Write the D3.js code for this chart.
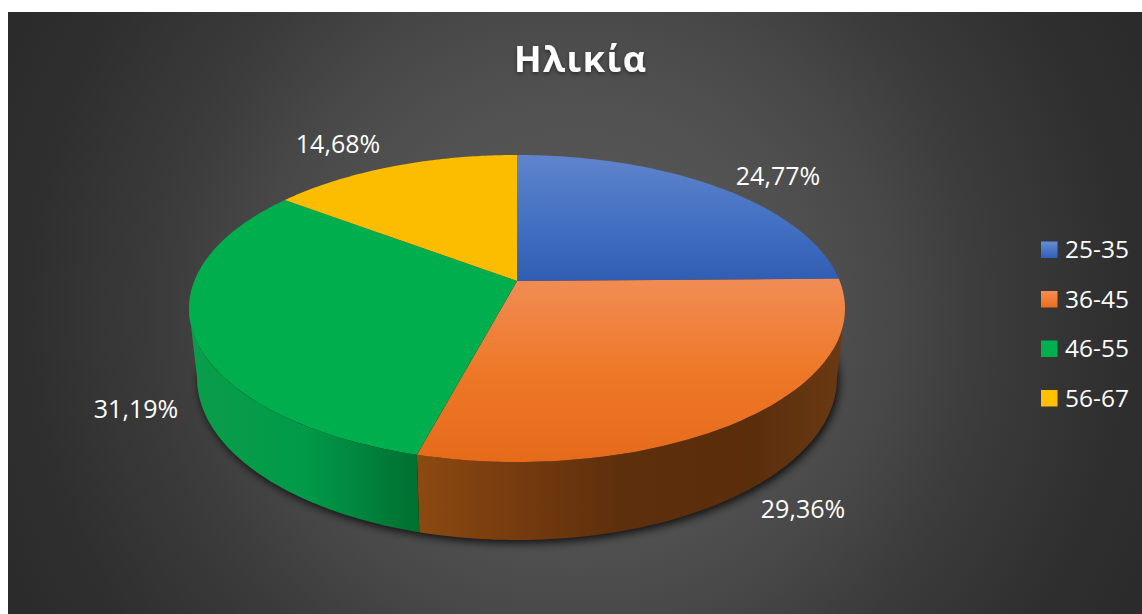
<!DOCTYPE html>
<html><head><meta charset="utf-8">
<script src="https://cdn.jsdelivr.net/npm/d3@7/dist/d3.min.js"></script>
<style>html,body{margin:0;padding:0;background:#fff;overflow:hidden}svg{display:block}</style>
</head><body><script>
const categories = ["25-35","36-45","46-55","56-67"];
const values = [24.77,29.36,31.19,14.68];
const valueLabels = ["24,77%","29,36%","31,19%","14,68%"];
const titleText = "Ηλικία";

const W=1142,H=614, X0=8,Y0=12;
const cx=517, k=0.179, cyTop=281, Rt=322.7, St=148.6;
const cyBot=349, Rb=314.8, Sb=156.8;
const project=(a,cy,R,S)=>{const u=Math.sin(a),v=-Math.cos(a),d=1-k*v;return [cx+R*u/d,cy+S*v/d];};
const top_=a=>project(a,cyTop,Rt,St), bot=a=>project(a,cyBot,Rb,Sb);

const svg=d3.select("body").append("svg").attr("width",W).attr("height",H);
const defs=svg.append("defs");
const bg=defs.append("radialGradient").attr("id","bg").attr("gradientUnits","userSpaceOnUse")
 .attr("cx",575).attr("cy",313).attr("r",650);
[[0,"#5a5a5a"],[200,"#525252"],[253,"#4e4e4e"],[325,"#474747"],[425,"#3a3a3a"],[472,"#363636"],[545,"#2f2f2f"],[650,"#2a2a2a"]]
 .forEach(s=>bg.append("stop").attr("offset",s[0]/650).attr("stop-color",s[1]));
const vg=(id,stops,y1,y2)=>{const g=defs.append("linearGradient").attr("id",id).attr("gradientUnits","userSpaceOnUse").attr("x1",0).attr("x2",0).attr("y1",y1).attr("y2",y2);
 stops.forEach((c,i)=>g.append("stop").attr("offset",i/(stops.length-1)).attr("stop-color",c));};
vg("t0",["#5f84cb","#4471c3","#2f5cb2"],155,285);
vg("t1",["#f08d55","#ee7828","#e56b1b"],278,462);
vg("t2",["#00ae4e","#00ae4e"],155,462);
vg("t3",["#fcbd00","#fcbd00"],155,285);
vg("l0",["#6a8fd4","#2f5fb8"],241,258);
vg("l1",["#f58f52","#ea6d1f"],291,307);
vg("l2",["#00b050","#00ae4e"],341,357);
vg("l3",["#ffc000","#ffc000"],390,406);
const hg=(id,stops)=>{const g=defs.append("linearGradient").attr("id",id).attr("gradientUnits","userSpaceOnUse").attr("x1",0).attr("x2",W).attr("y1",0).attr("y2",0);
 stops.forEach(s=>g.append("stop").attr("offset",s[0]/W).attr("stop-color",s[1]));};
hg("s1",[[416,"#8c4a10"],[500,"#7a3d0f"],[620,"#5e2f0c"],[750,"#5a2d0b"],[845,"#6b3a14"]]);
hg("s2",[[189,"#0b9d4a"],[305,"#009a48"],[375,"#007f3a"],[419,"#006f30"]]);
const blur=defs.append("filter").attr("id","blur").attr("x","-10%").attr("y","-10%").attr("width","120%").attr("height","120%");
blur.append("feGaussianBlur").attr("stdDeviation",4);
const ts=defs.append("filter").attr("id","ts").attr("x","-10%").attr("y","-20%").attr("width","120%").attr("height","150%");
ts.append("feDropShadow").attr("dx",0).attr("dy",2).attr("stdDeviation",2).attr("flood-color","#000").attr("flood-opacity",0.45);

svg.append("rect").attr("x",X0).attr("y",Y0).attr("width",W-X0).attr("height",H-Y0).attr("fill","url(#bg)");

const arcs=d3.pie().sort(null).value(d=>d)(values);
const line=d3.line();
const sample=(a0,a1,n=80)=>d3.range(n+1).map(i=>a0+(a1-a0)*i/n);

// shadow under the solid
const full=sample(0,2*Math.PI,200);
svg.append("path").attr("d",line(full.map(a=>{const p=bot(a);return [p[0]+2,p[1]+3];}))+"Z")
 .attr("fill","#000").attr("opacity",0.8).attr("filter","url(#blur)");

// side walls between the silhouette points of the rim
const sideFill=["url(#s1)","url(#s1)","url(#s2)","url(#s2)"];
const aStart=Math.acos(-k), aEnd=2*Math.PI-aStart;
arcs.forEach((d,i)=>{
 const a0=Math.max(d.startAngle,aStart), a1=Math.min(d.endAngle,aEnd);
 if(a1<=a0) return;
 const as=sample(a0,a1);
 const pts=as.map(top_).concat(as.slice().reverse().map(bot));
 svg.append("path").attr("class","side").attr("d",line(pts)+"Z").attr("fill",sideFill[i]);
});

// top slices
arcs.forEach((d,i)=>{
 const pts=[[cx,cyTop]].concat(sample(d.startAngle,d.endAngle).map(top_));
 svg.append("path").attr("class","slice").attr("d",line(pts)+"Z").attr("fill",`url(#t${i})`);
});

const text=(x,y,s,size,anchor,extra)=>{const t=svg.append("text").attr("x",x).attr("y",y).attr("fill","#fff")
 .attr("font-family","'Open Sans','Noto Sans',sans-serif").attr("font-size",size).attr("text-anchor",anchor).text(s);
 if(extra)extra(t);return t;};

text(580.7,72,titleText,36,"middle",t=>t.attr("font-weight",700).attr("letter-spacing",1.5).attr("filter","url(#ts)"));

// data labels
const labelPos=[[778,185],[803,518],[136,418],[338,153]];
valueLabels.forEach((s,i)=>text(labelPos[i][0],labelPos[i][1],s,25,"middle"));

// legend
const legendY=d3.scalePoint().domain(categories).range([249.5,398]);
categories.forEach((c,i)=>{
 const y=legendY(c);
 svg.append("rect").attr("x",1041).attr("y",y-8).attr("width",16.5).attr("height",16.5).attr("fill",`url(#l${i})`);
 text(1065,y+8.5,c,24.5,"start");
});
</script></body></html>
